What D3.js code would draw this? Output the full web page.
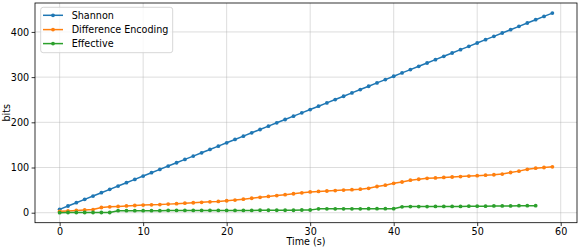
<!DOCTYPE html>
<html><head><meta charset="utf-8">
<script src="https://cdn.jsdelivr.net/npm/d3@7"></script>
<style>
body{margin:0;background:#fff;}
svg{display:block;font-family:"DejaVu Sans",sans-serif;}
</style></head>
<body><svg id="c" width="581" height="250"></svg>
<script>
const seriesNames = ["Shannon", "Difference Encoding", "Effective"];
const seriesColors = ["#1f77b4", "#ff7f0e", "#2ca02c"];
const shannon = [7.5,14.9,22.2,29.6,36.9,44.3,51.7,59.0,66.4,73.7,81.1,88.5,95.8,103.2,110.5,117.9,125.3,132.6,140.0,147.3,154.7,162.1,169.4,176.8,184.1,191.5,198.9,206.2,213.6,220.9,228.3,235.7,243.0,250.4,257.7,265.1,272.5,279.8,287.2,294.5,301.9,309.3,316.6,324.0,331.3,338.7,346.1,353.4,360.8,368.1,375.5,382.9,390.2,397.6,404.9,412.3,419.7,427.0,434.4,441.7];
const diffEnc = [3,4,5,6,7,11.5,13,14,15,16,17,17.5,18,19,20,21,22,23,24,25,26.5,28,30,32,34,36,38,40,42,44,46,47,48,49,50,51,52,54,58,61,65,68,72,74,76,77,78,79,80,81,82,83,84,85.5,89,92,96,98.5,100,101.5];
const effective = [0,0.5,0.5,0.5,0.5,0.5,0.5,4.5,4.5,4.5,4.5,4.5,4.5,5,5,5,5,5,5,5,5,5,5,5,5.5,5.5,5.5,5.5,5.5,6,6,8.5,8.5,8.5,8.5,8.5,8.5,9,9,9,9,13,13.5,13.5,13.5,14,14,14,14,14.5,14.5,14.5,15,15,15,15.5,15.5,15.5];
const xTicks = [0,10,20,30,40,50,60];
const yTicks = [0,100,200,300,400];
const xLabel = "Time (s)";
const yLabel = "bits";

const allSeries = [shannon, diffEnc, effective];
const svg = d3.select("#c");
const L = 35, R = 577, T = 3, B = 222.7;
const x = d3.scaleLinear().domain([-2.95, 61.95]).range([L, R]);
const y = d3.scaleLinear().domain([-22.1, 464.0]).range([B, T]);
const fs = 9.6;

// grid
const g = svg.append("g");
g.selectAll(".gx").data(xTicks).enter().append("line")
  .attr("x1", d => x(d)).attr("x2", d => x(d)).attr("y1", T).attr("y2", B)
  .attr("stroke", "#b0b0b0").attr("stroke-opacity", 0.55).attr("stroke-width", 0.8);
g.selectAll(".gy").data(yTicks).enter().append("line")
  .attr("x1", L).attr("x2", R).attr("y1", d => y(d)).attr("y2", d => y(d))
  .attr("stroke", "#b0b0b0").attr("stroke-opacity", 0.55).attr("stroke-width", 0.8);

// series
allSeries.forEach((s, k) => {
  const line = d3.line().x((d, i) => x(i)).y(d => y(d));
  svg.append("path").datum(s).attr("d", line).attr("fill", "none")
    .attr("stroke", seriesColors[k]).attr("stroke-width", 1.5).attr("stroke-linejoin", "round");
  svg.append("g").selectAll("circle").data(s).enter().append("circle")
    .attr("cx", (d, i) => x(i)).attr("cy", d => y(d)).attr("r", 1.9)
    .attr("fill", seriesColors[k]);
});

// axes
const xAxis = d3.axisBottom(x).tickValues(xTicks).tickSize(3.4).tickPadding(2.5).tickFormat(d3.format("d"));
const yAxis = d3.axisLeft(y).tickValues(yTicks).tickSize(3.4).tickPadding(2.5).tickFormat(d3.format("d"));
const gx = svg.append("g").attr("transform", `translate(0,${B})`).call(xAxis);
const gy = svg.append("g").attr("transform", `translate(${L},0)`).call(yAxis);
[gx, gy].forEach(a => {
  a.select(".domain").remove();
  a.selectAll(".tick line").attr("stroke", "#000").attr("stroke-width", 0.8);
  a.selectAll(".tick text").attr("font-size", fs).attr("fill", "#000").attr("font-family", "DejaVu Sans");
});
// frame
svg.append("rect").attr("x", L).attr("y", T).attr("width", R - L).attr("height", B - T)
  .attr("fill", "none").attr("stroke", "#000").attr("stroke-width", 0.8);

svg.append("text").attr("x", (L + R) / 2).attr("y", 245).attr("text-anchor", "middle")
  .attr("font-size", fs).text(xLabel);
svg.append("text").attr("transform", "translate(9.5,112.8) rotate(-90)").attr("text-anchor", "middle")
  .attr("font-size", fs).text(yLabel);

// legend
const lg = svg.append("g");
lg.append("rect").attr("x", 40.7).attr("y", 7.3).attr("width", 132).attr("height", 45.4)
  .attr("rx", 2.5).attr("fill", "#fff").attr("fill-opacity", 0.8).attr("stroke", "#cccccc").attr("stroke-width", 0.8);
const ly = [15.3, 29.6, 43.6];
seriesNames.forEach((n, k) => {
  lg.append("line").attr("x1", 43).attr("x2", 63).attr("y1", ly[k]).attr("y2", ly[k])
    .attr("stroke", seriesColors[k]).attr("stroke-width", 1.5);
  lg.append("circle").attr("cx", 53).attr("cy", ly[k]).attr("r", 1.9).attr("fill", seriesColors[k]);
  lg.append("text").attr("x", 71.7).attr("y", ly[k]).attr("dy", "0.35em").attr("font-size", fs).text(n);
});
</script></body></html>
